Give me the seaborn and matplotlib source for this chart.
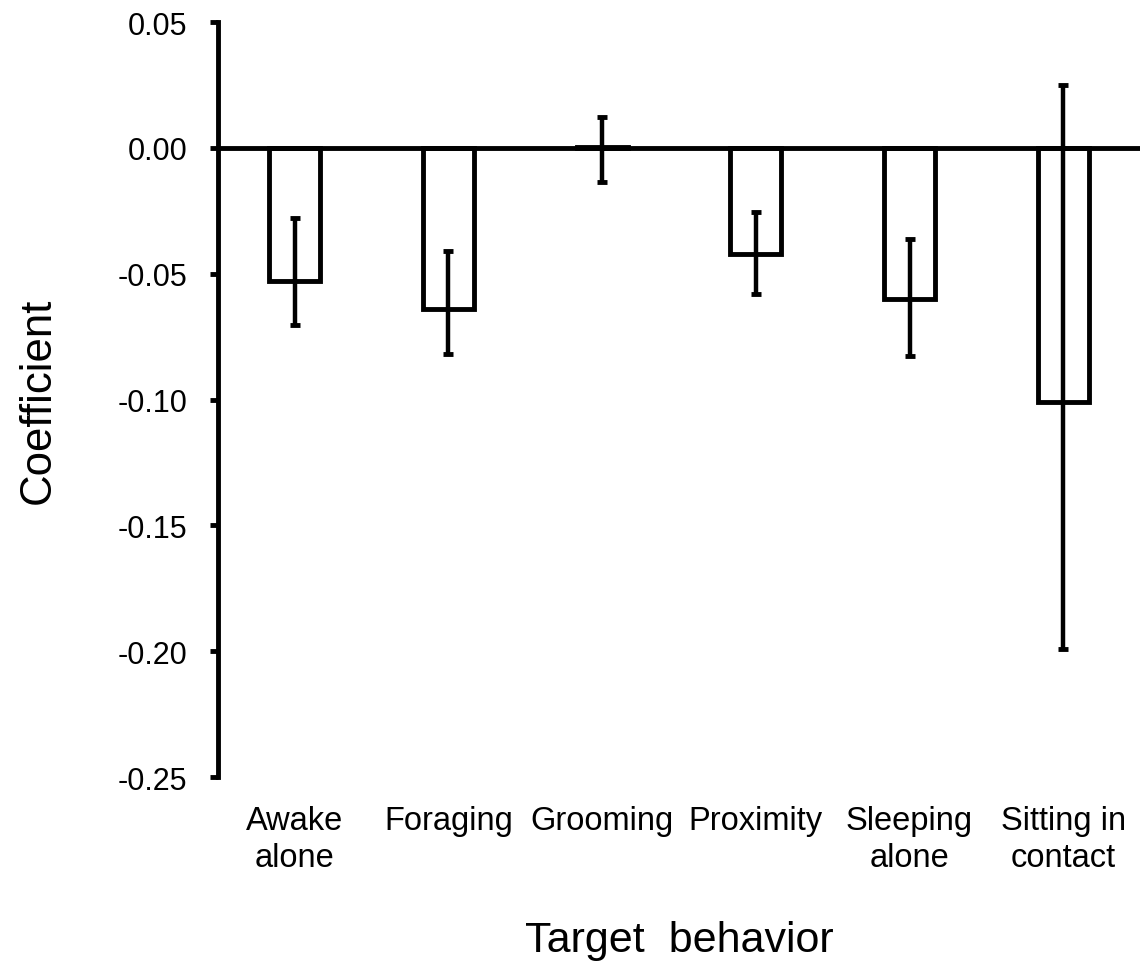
import matplotlib
matplotlib.use("Agg")
import matplotlib.pyplot as plt
import seaborn as sns
from matplotlib.ticker import FormatStrFormatter

# Data
behaviors = ["Awake\nalone", "Foraging", "Grooming", "Proximity", "Sleeping\nalone", "Sitting in\ncontact"]
coef = [-0.053, -0.064, 0.0005, -0.042, -0.060, -0.101]
ci_low = [-0.0705, -0.0821, -0.0135, -0.0582, -0.0829, -0.199]
ci_high = [-0.0279, -0.041, 0.0124, -0.0255, -0.0363, 0.025]
yticks = [-0.25, -0.20, -0.15, -0.10, -0.05, 0.00, 0.05]

sns.set_style("ticks")
plt.rcParams['font.family'] = ['Liberation Sans', 'DejaVu Sans']
plt.rcParams['axes.unicode_minus'] = False
for k in ['text.color', 'axes.labelcolor', 'xtick.color', 'ytick.color', 'axes.edgecolor']:
    plt.rcParams[k] = 'black'

fig = plt.figure(figsize=(11.43, 9.79), dpi=100)
ax = fig.add_axes([0.1907, 0.2053, 0.8067, 0.7712])

sns.barplot(x=behaviors, y=coef, fill=False, edgecolor='black', linewidth=3.5,
            width=0.33, errorbar=None, ax=ax)

# asymmetric error bars
xs = range(len(behaviors))
yerr = [[c - lo for c, lo in zip(coef, ci_low)], [hi - c for c, hi in zip(coef, ci_high)]]
ax.errorbar(xs, coef, yerr=yerr, fmt='none', ecolor='black', elinewidth=3.2,
            capsize=3.5, capthick=3.5)

ax.axhline(0, color='black', lw=3.5, zorder=3)

ax.set_xlim(-0.5, 5.5)
ax.set_ylim(-0.25, 0.05)
ax.set_yticks(yticks)
ax.yaxis.set_major_formatter(FormatStrFormatter('%.2f'))

for s in ['top', 'right', 'bottom']:
    ax.spines[s].set_visible(False)
ax.spines['left'].set_linewidth(3.5)
ax.tick_params(axis='y', width=3.5, length=6, labelsize=22, pad=16)
ax.tick_params(axis='x', length=0, labelsize=23.5, pad=20)
for lbl in ax.get_xticklabels():
    lbl.set_linespacing(1.25)

ax.set_ylabel("Coefficient", fontsize=31.5, labelpad=42)
ax.set_xlabel("Target  behavior", fontsize=31, labelpad=34)

plt.savefig("out.png", dpi=100)
